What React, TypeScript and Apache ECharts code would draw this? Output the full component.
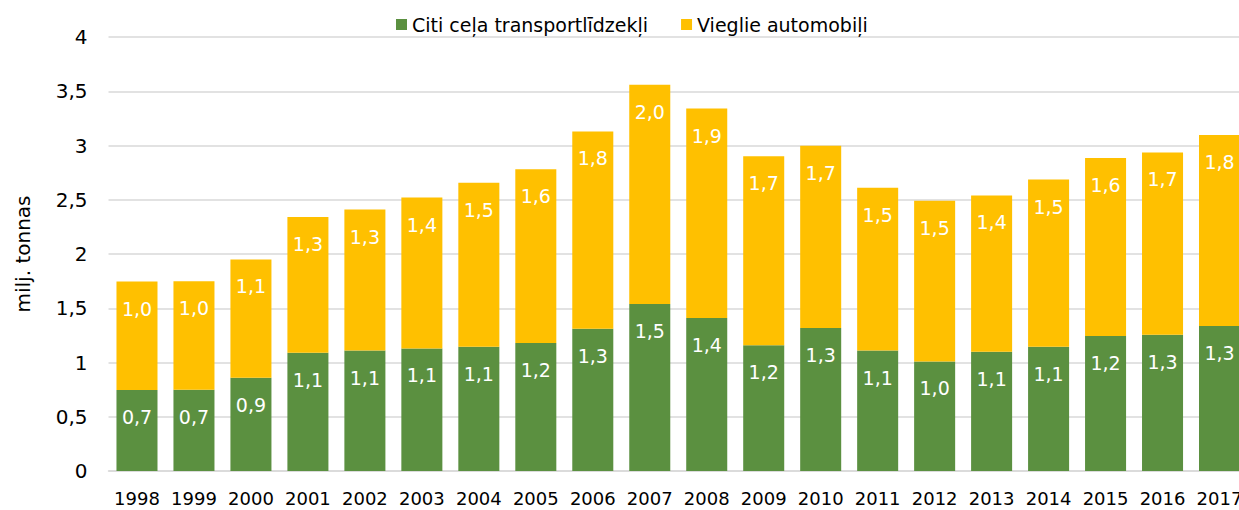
import React, { useEffect, useRef } from "react";
import * as echarts from "echarts";

const years = ["1998","1999","2000","2001","2002","2003","2004","2005","2006","2007","2008","2009","2010","2011","2012","2013","2014","2015","2016","2017"];
const otherVehicles = [0.746,0.749,0.86,1.09,1.11,1.13,1.146,1.18,1.31,1.539,1.41,1.16,1.318,1.11,1.01,1.10,1.146,1.244,1.256,1.336];
const passengerCars = [1.0,1.0,1.09,1.25,1.30,1.39,1.51,1.60,1.82,2.02,1.93,1.74,1.68,1.50,1.48,1.44,1.54,1.64,1.68,1.76];
const seriesNames = ["Citi ceļa transportlīdzekļi", "Vieglie automobiļi"];
const yTicks = { min: 0, max: 4, interval: 0.5 };

const FONT = "DejaVu Sans";
const fmt = (v: number) => String(v).replace(".", ",");
const fmt1 = (v: number) => v.toFixed(1).replace(".", ",");

export default function App() {
  const ref = useRef<HTMLDivElement>(null);
  useEffect(() => {
    if (!ref.current) return;
    const chart = echarts.init(ref.current, undefined, { renderer: "svg" });
    const label = {
      show: true,
      position: "insideTop" as const,
      distance: 16,
      color: "#ffffff",
      fontFamily: FONT,
      fontSize: 19,
      lineHeight: 22,
      formatter: (p: any) => fmt1(p.value),
    };
    chart.setOption({
      animation: false,
      textStyle: { fontFamily: FONT },
      legend: {
        top: 15,
        left: 396,
        padding: 0,
        itemWidth: 11,
        itemHeight: 11,
        itemGap: 33,
        icon: "rect",
        textStyle: { fontFamily: FONT, fontSize: 19, color: "#000" },
        data: seriesNames,
      },
      grid: { left: 108.5, right: 0, top: 37, bottom: 39, containLabel: false },
      xAxis: {
        type: "category",
        data: years,
        axisLine: { show: true, lineStyle: { color: "#d9d9d9", width: 1.5 } },
        axisTick: { show: false },
        axisLabel: { color: "#000", fontFamily: FONT, fontSize: 18, margin: 18, interval: 0 },
      },
      yAxis: {
        type: "value",
        min: yTicks.min,
        max: yTicks.max,
        interval: yTicks.interval,
        name: "milj. tonnas",
        nameLocation: "middle",
        nameGap: 76,
        nameRotate: 90,
        nameTextStyle: { color: "#000", fontFamily: FONT, fontSize: 20 },
        axisLine: { show: false },
        axisTick: { show: false },
        splitLine: { lineStyle: { color: "#d9d9d9", width: 1.5 } },
        axisLabel: { color: "#000", fontFamily: FONT, fontSize: 20, margin: 21, formatter: (v: number) => fmt(v) },
      },
      series: [
        {
          name: seriesNames[0],
          type: "bar",
          stack: "total",
          data: otherVehicles,
          barCategoryGap: "28%",
          itemStyle: { color: "#5B9040" },
          label,
        },
        {
          name: seriesNames[1],
          type: "bar",
          stack: "total",
          data: passengerCars,
          barCategoryGap: "28%",
          itemStyle: { color: "#FFC000" },
          label,
        },
      ],
    });
    return () => chart.dispose();
  }, []);
  return (
    <div style={{ position: "fixed", left: 0, top: 0, width: 1239, height: 510, overflow: "hidden", background: "#fff" }}>
      <div ref={ref} style={{ width: 1248, height: 510 }} />
    </div>
  );
}
